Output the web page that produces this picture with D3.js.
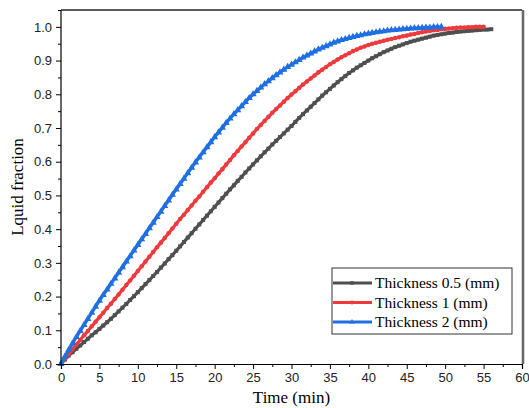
<!DOCTYPE html>
<html><head><meta charset="utf-8">
<script src="https://cdn.jsdelivr.net/npm/d3@7"></script>
<style>body{margin:0;background:#fff}</style>
</head><body>
<svg id="c" width="529" height="408"></svg>
<script>
const time = [0,0.5,1,1.5,2,2.5,3,3.5,4,4.5,5,5.5,6,6.5,7,7.5,8,8.5,9,9.5,10,10.5,11,11.5,12,12.5,13,13.5,14,14.5,15,15.5,16,16.5,17,17.5,18,18.5,19,19.5,20,20.5,21,21.5,22,22.5,23,23.5,24,24.5,25,25.5,26,26.5,27,27.5,28,28.5,29,29.5,30,30.5,31,31.5,32,32.5,33,33.5,34,34.5,35,35.5,36,36.5,37,37.5,38,38.5,39,39.5,40,40.5,41,41.5,42,42.5,43,43.5,44,44.5,45,45.5,46,46.5,47,47.5,48,48.5,49,49.5,50,50.5,51,51.5,52,52.5,53,53.5,54,54.5,55,55.5,56];
const thick05 = [0,0.013,0.025,0.035,0.045,0.055,0.065,0.075,0.085,0.094,0.104,0.114,0.124,0.134,0.145,0.156,0.167,0.178,0.19,0.201,0.213,0.225,0.237,0.249,0.261,0.273,0.286,0.298,0.311,0.323,0.336,0.349,0.362,0.375,0.388,0.401,0.414,0.427,0.44,0.453,0.466,0.479,0.492,0.505,0.518,0.53,0.543,0.555,0.568,0.58,0.592,0.604,0.616,0.628,0.639,0.651,0.662,0.673,0.684,0.695,0.706,0.718,0.73,0.741,0.752,0.763,0.774,0.785,0.796,0.806,0.816,0.826,0.836,0.845,0.854,0.863,0.871,0.879,0.886,0.893,0.9,0.907,0.913,0.919,0.925,0.93,0.935,0.94,0.944,0.948,0.952,0.956,0.959,0.962,0.965,0.968,0.971,0.974,0.976,0.978,0.98,0.982,0.983,0.985,0.986,0.987,0.988,0.989,0.99,0.991,0.992,0.992,0.993];
const thick1 = [0,0.016,0.03,0.044,0.058,0.071,0.085,0.098,0.112,0.125,0.139,0.152,0.166,0.179,0.193,0.206,0.22,0.234,0.248,0.262,0.276,0.29,0.304,0.318,0.332,0.346,0.36,0.374,0.388,0.402,0.416,0.43,0.443,0.457,0.47,0.484,0.497,0.511,0.524,0.538,0.551,0.565,0.578,0.592,0.605,0.619,0.632,0.645,0.658,0.671,0.684,0.697,0.709,0.721,0.733,0.745,0.756,0.767,0.778,0.789,0.799,0.809,0.819,0.829,0.838,0.847,0.856,0.865,0.873,0.881,0.889,0.896,0.903,0.91,0.916,0.922,0.928,0.933,0.938,0.942,0.946,0.95,0.953,0.956,0.959,0.962,0.964,0.967,0.969,0.972,0.974,0.977,0.979,0.982,0.984,0.986,0.988,0.99,0.991,0.993,0.994,0.995,0.996,0.997,0.998,0.998,0.999,0.999,1.0,1.0,1.0];
const thick2 = [0,0.022,0.042,0.061,0.08,0.098,0.116,0.134,0.152,0.17,0.188,0.205,0.221,0.238,0.254,0.271,0.287,0.304,0.32,0.337,0.353,0.37,0.386,0.403,0.419,0.436,0.452,0.469,0.485,0.502,0.518,0.534,0.55,0.566,0.582,0.598,0.613,0.628,0.643,0.658,0.673,0.687,0.701,0.715,0.728,0.741,0.753,0.765,0.777,0.789,0.8,0.81,0.82,0.83,0.839,0.848,0.857,0.865,0.873,0.881,0.888,0.895,0.902,0.909,0.915,0.921,0.927,0.933,0.938,0.943,0.948,0.953,0.957,0.961,0.964,0.967,0.97,0.973,0.975,0.978,0.98,0.982,0.984,0.986,0.987,0.989,0.99,0.991,0.992,0.993,0.994,0.995,0.996,0.996,0.997,0.998,0.998,0.999,0.999,1.0];
const seriesNames = ["Thickness 0.5 (mm)","Thickness 1 (mm)","Thickness 2 (mm)"];
const seriesColors = ["#4f4f4f","#ef3a3d","#1f6fe3"];
const seriesMarkers = ["square","circle","triangle"];
const xTicks = [0,5,10,15,20,25,30,35,40,45,50,55,60];
const yTicks = [0,0.1,0.2,0.3,0.4,0.5,0.6,0.7,0.8,0.9,1.0];
const xLabel = "Time (min)";
const yLabel = "Lquid fraction";

const svg = d3.select("#c");
const L = 61, R = 522, T = 10, B = 364;
const x = d3.scaleLinear().domain([0,60]).range([L,R]);
const y = d3.scaleLinear().domain([0,1.05]).range([B,T]);

const allSeries = [thick05, thick1, thick2].map((vals,i)=>({
  name: seriesNames[i], color: seriesColors[i], marker: seriesMarkers[i],
  pts: vals.map((v,j)=>[time[j], v])
}));

// frame
svg.append("line").attr("x1",L).attr("x2",R).attr("y1",T).attr("y2",T).attr("stroke","#222").attr("stroke-width",1.5);
svg.append("line").attr("x1",R+1).attr("x2",R+1).attr("y1",T).attr("y2",B).attr("stroke","#666").attr("stroke-width",2.5);

const line = d3.line().x(d=>x(d[0])).y(d=>y(d[1]));
const symType = {square:d3.symbolSquare, circle:d3.symbolCircle, triangle:d3.symbolTriangle};

allSeries.forEach(s=>{
  const g = svg.append("g");
  g.append("path").datum(s.pts).attr("d",line).attr("fill","none").attr("stroke",s.color).attr("stroke-width",3.2);
  const sym = d3.symbol().type(symType[s.marker]).size(s.marker==="triangle"?22:16);
  g.selectAll("path.m").data(s.pts).join("path").attr("class","m")
    .attr("d",sym).attr("transform",d=>`translate(${x(d[0])},${y(d[1])})`).attr("fill",s.color);
});

// axes
const xAxis = d3.axisBottom(x).tickValues(xTicks).tickSize(5).tickPadding(4).tickFormat(d3.format("d"));
const gx = svg.append("g").attr("transform",`translate(0,${B})`).call(xAxis);
gx.select(".domain").attr("stroke","#000").attr("stroke-width",1.2);
gx.selectAll(".tick line").attr("stroke","#000");
gx.selectAll("text").attr("font-family","Liberation Sans, Arial, sans-serif").attr("font-size",13).attr("fill","#222");
const xMinor = d3.axisBottom(x).tickValues(xTicks.slice(0,-1).map(t=>t+2.5)).tickSize(3).tickFormat("");
const gxm = svg.append("g").attr("transform",`translate(0,${B})`).call(xMinor);
gxm.select(".domain").remove();

const yAxis = d3.axisLeft(y).tickValues(yTicks).tickSize(5).tickPadding(4).tickFormat(d3.format(".1f"));
const gy = svg.append("g").attr("transform",`translate(${L},0)`).call(yAxis);
gy.select(".domain").attr("stroke","#000").attr("stroke-width",1.2).attr("d",`M0,${B}V${T}`);
gy.selectAll(".tick line").attr("stroke","#000");
gy.selectAll("text").attr("font-family","Liberation Sans, Arial, sans-serif").attr("font-size",13).attr("fill","#222");
const yMinor = d3.axisLeft(y).tickValues(yTicks.map(t=>t+0.05)).tickSize(3).tickFormat("");
const gym = svg.append("g").attr("transform",`translate(${L},0)`).call(yMinor);
gym.select(".domain").remove();

// titles
svg.append("text").attr("x",(L+R)/2).attr("y",403).attr("text-anchor","middle")
  .attr("font-family","Liberation Serif, Times New Roman, serif").attr("font-size",17).attr("fill","#000").text(xLabel);
svg.append("text").attr("transform",`translate(23,${(T+B)/2}) rotate(-90)`).attr("text-anchor","middle")
  .attr("font-family","Liberation Serif, Times New Roman, serif").attr("font-size",17).attr("fill","#000").text(yLabel);

// legend
const lg = svg.append("g");
lg.append("rect").attr("x",332).attr("y",268).attr("width",180).attr("height",66).attr("fill","#fff").attr("stroke","#333").attr("stroke-width",1);
allSeries.forEach((s,i)=>{
  const yy = 283 + i*19.5;
  lg.append("line").attr("x1",333).attr("x2",372).attr("y1",yy).attr("y2",yy).attr("stroke",s.color).attr("stroke-width",3);
  lg.append("path").attr("d",d3.symbol().type(symType[s.marker]).size(12)).attr("transform",`translate(352,${yy})`).attr("fill",s.color);
  lg.append("text").attr("x",375).attr("y",yy+5).attr("font-family","Liberation Serif, Times New Roman, serif")
    .attr("font-size",15.5).attr("fill","#000").text(s.name);
});
</script>
</body></html>
